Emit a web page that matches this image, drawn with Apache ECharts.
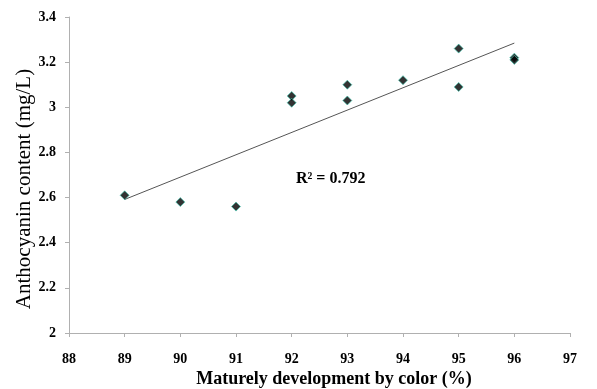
<!DOCTYPE html>
<html>
<head>
<meta charset="utf-8">
<script src="https://cdn.jsdelivr.net/npm/echarts@6/dist/echarts.min.js"></script>
<style>html,body{margin:0;padding:0;background:#fff}#c{width:597px;height:389px}</style>
</head>
<body>
<div id="c"></div>
<script>
const xValues = [89, 90, 91, 92, 92, 93, 93, 94, 95, 95, 96, 96];
const yValues = [2.61, 2.58, 2.56, 3.05, 3.02, 3.10, 3.03, 3.12, 3.26, 3.09, 3.22, 3.21];
const r2Text = 'R² = 0.792';
const xTitle = 'Maturely development by color (%)';
const yTitle = 'Anthocyanin content (mg/L)';

const n = xValues.length;
const mx = xValues.reduce((a, b) => a + b, 0) / n;
const my = yValues.reduce((a, b) => a + b, 0) / n;
let sxx = 0, sxy = 0;
for (let i = 0; i < n; i++) { sxx += (xValues[i] - mx) ** 2; sxy += (xValues[i] - mx) * (yValues[i] - my); }
const slope = sxy / sxx, intercept = my - slope * mx;
const xMin = Math.min(...xValues), xMax = Math.max(...xValues);
const trend = [[xMin, intercept + slope * xMin], [xMax, intercept + slope * xMax]];

const font = 'Liberation Serif';
const chart = echarts.init(document.getElementById('c'));
chart.setOption({
  animation: false,
  grid: { left: 69, right: 27, top: 17, bottom: 56 },
  xAxis: {
    type: 'value', min: 88, max: 97, interval: 1,
    axisLine: { show: true, lineStyle: { color: '#b0b0b0', width: 1 } },
    axisTick: { show: true, length: 4, lineStyle: { color: '#b0b0b0' } },
    axisLabel: { fontFamily: font, fontWeight: 'bold', fontSize: 14, color: '#000', margin: 19 },
    splitLine: { show: false }
  },
  yAxis: {
    type: 'value', min: 2, max: 3.4, interval: 0.2,
    axisLine: { show: true, lineStyle: { color: '#b0b0b0', width: 1 } },
    axisTick: { show: true, length: 4, lineStyle: { color: '#b0b0b0' } },
    axisLabel: { fontFamily: font, fontWeight: 'bold', fontSize: 14, color: '#000', margin: 13 },
    splitLine: { show: false }
  },
  series: [
    {
      type: 'line', data: trend, symbol: 'none', silent: true,
      lineStyle: { color: '#555', width: 1 }, z: 1
    },
    {
      type: 'scatter', data: xValues.map((x, i) => [x, yValues[i]]),
      symbol: 'diamond', symbolSize: 9,
      itemStyle: { color: '#000', borderColor: '#3cc8b0', borderWidth: 0.8 }, z: 2
    }
  ],
  graphic: [
    {
      type: 'text', x: 296, y: 179,
      style: { text: r2Text, fontFamily: font, fontWeight: 'bold', fontSize: 16, fill: '#000', verticalAlign: 'middle' }
    },
    {
      type: 'text', x: 334, y: 379,
      style: { text: xTitle, fontFamily: font, fontWeight: 'bold', fontSize: 18, fill: '#000', align: 'center', verticalAlign: 'middle' }
    },
    {
      type: 'text', x: 24, y: 189, rotation: Math.PI / 2,
      style: { text: yTitle, fontFamily: font, fontSize: 21, fill: '#000', align: 'center', verticalAlign: 'middle' }
    }
  ]
});
</script>
</body>
</html>
